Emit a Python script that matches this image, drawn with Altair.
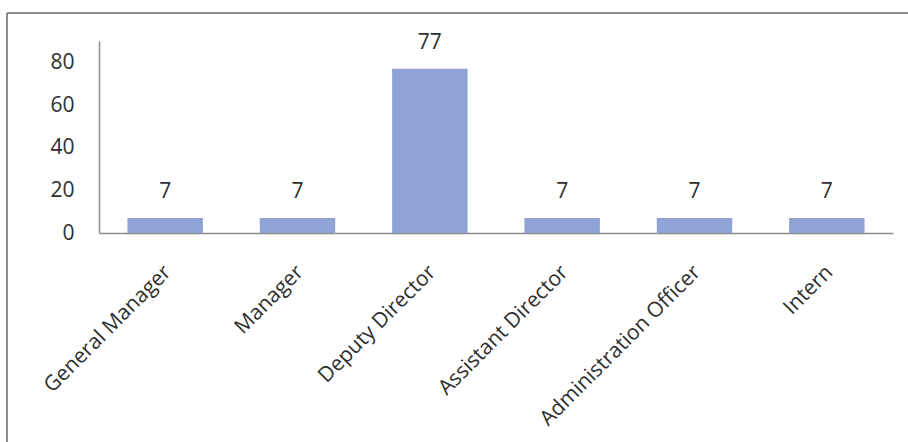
import altair as alt
import pandas as pd

# Headcount by position
positions = ["General Manager", "Manager", "Deputy Director",
             "Assistant Director", "Administration Officer", "Intern"]
counts = [7, 7, 77, 7, 7, 7]
y_ticks = [0, 20, 40, 60, 80]

df = pd.DataFrame({"position": positions, "count": counts})

FONT = "Open Sans"
TEXT = "#2e2e2e"
LINE = "#8c8c8c"
BAR = "#8FA3D4"
SIZE = 21

x_enc = alt.X(
    "position:N",
    sort=positions,
    title=None,
    scale=alt.Scale(paddingInner=0.43, paddingOuter=0.215),
    axis=alt.Axis(
        labelAngle=-45,
        labelAlign="right",
        labelBaseline="top",
        labelPadding=28,
        labelOffset=-5,
        ticks=False,
        domainColor=LINE,
        domainWidth=1.5,
        labelFont=FONT,
        labelFontSize=SIZE,
        labelColor=TEXT,
        labelLimit=400,
    ),
)
y_enc = alt.Y(
    "count:Q",
    title=None,
    scale=alt.Scale(domain=[0, 90], nice=False),
    axis=alt.Axis(
        values=y_ticks,
        grid=False,
        ticks=False,
        domainColor=LINE,
        domainWidth=1.5,
        labelPadding=25,
        labelFont=FONT,
        labelFontSize=SIZE,
        labelColor=TEXT,
    ),
)

bars = alt.Chart(df).mark_bar(color=BAR).encode(x=x_enc, y=y_enc)

labels = alt.Chart(df).mark_text(
    baseline="bottom", dy=-16, font=FONT, fontSize=SIZE, color=TEXT
).encode(x=alt.X("position:N", sort=positions), y="count:Q", text="count:Q")

# outer frame of the chart area (top and left edges)
frame_top = alt.Chart(df).mark_rule(color=LINE, strokeWidth=2).encode(
    x=alt.value(-92), x2=alt.value(820), y=alt.value(-28)
)
frame_left = alt.Chart(df).mark_rule(color=LINE, strokeWidth=2).encode(
    x=alt.value(-92), y=alt.value(-28), y2=alt.value(420)
)

chart = (
    alt.layer(frame_top, frame_left, bars, labels)
    .properties(
        width=794,
        height=192,
        background="white",
        autosize=alt.AutoSizeParams(type="none"),
        padding={"left": 99, "top": 41, "right": 15, "bottom": 209},
    )
    .configure_view(strokeWidth=0, stroke="transparent")
)

chart.save("out.html", embed_options={"renderer": "svg", "actions": False})
